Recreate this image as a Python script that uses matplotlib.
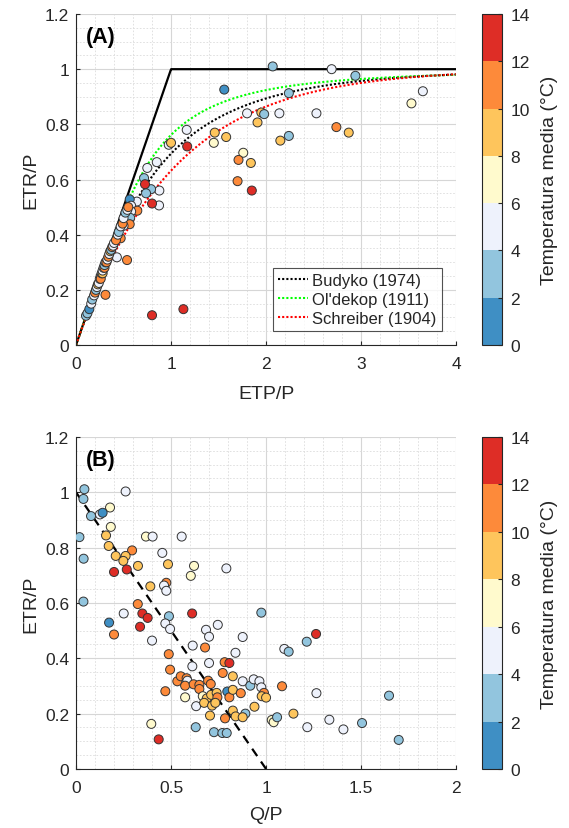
import numpy as np
import matplotlib
matplotlib.use("Agg")
import matplotlib.pyplot as plt
from matplotlib.colors import ListedColormap, BoundaryNorm
from matplotlib.ticker import MultipleLocator

plt.rcParams['font.family'] = ['Liberation Sans', 'DejaVu Sans']

# Temperature classes (°C) and their colours
temp_bounds = [0, 2, 4, 6, 8, 10, 12, 14]
temp_colors = ['#3f8fc4', '#92c5de', '#eef2fc', '#fffacd', '#fec55c', '#fd8a3a', '#de2d26']

# Panel A: ETP/P vs ETR/P
etp_a = [2.07, 2.69, 2.94, 1.56, 2.24, 3.65, 3.53, 1.80, 1.95, 1.98, 2.14, 2.53, 1.91, 2.74,
         2.87, 1.165, 1.46, 1.58, 2.24, 2.15, 1.45, 0.976, 1.00, 1.17, 1.76, 1.71, 1.84, 1.70,
         1.85, 0.75, 0.85, 0.716, 0.877, 0.79, 0.737, 0.874, 0.80, 0.64, 0.565, 0.58, 0.645,
         0.58, 0.57, 0.565, 0.50, 0.47, 0.537, 0.43, 0.31, 0.80, 1.13, 0.105, 0.726,
         0.12, 0.14, 0.16, 0.17, 0.19, 0.20, 0.21, 0.22, 0.23, 0.24, 0.25, 0.26, 0.26, 0.27,
         0.28, 0.28, 0.29, 0.30, 0.30, 0.31, 0.32, 0.33, 0.34, 0.35, 0.36, 0.37, 0.38, 0.39,
         0.40, 0.42, 0.44, 0.45, 0.47, 0.49, 0.50, 0.52, 0.54, 0.55]
etr_a = [1.01, 1.00, 0.976, 0.926, 0.913, 0.92, 0.876, 0.84, 0.843, 0.837, 0.84, 0.84, 0.807, 0.79,
         0.77, 0.78, 0.77, 0.754, 0.758, 0.741, 0.733, 0.726, 0.733, 0.72, 0.697, 0.671, 0.66, 0.594,
         0.56, 0.642, 0.663, 0.605, 0.56, 0.565, 0.55, 0.506, 0.513, 0.52, 0.528, 0.505, 0.487,
         0.484, 0.461, 0.438, 0.432, 0.387, 0.308, 0.318, 0.182, 0.108, 0.13, 0.106, 0.583,
         0.115, 0.13, 0.15, 0.165, 0.18, 0.19, 0.20, 0.21, 0.22, 0.225, 0.24, 0.25, 0.24, 0.26,
         0.26, 0.27, 0.28, 0.28, 0.29, 0.30, 0.30, 0.31, 0.32, 0.33, 0.34, 0.345, 0.355, 0.36,
         0.37, 0.38, 0.40, 0.41, 0.43, 0.44, 0.46, 0.48, 0.49, 0.50]
temp_a = [3, 5, 3, 1, 3, 5, 7, 5, 9, 3, 5, 5, 9, 11,
          9, 5, 9, 9, 3, 9, 7, 5, 9, 13, 7, 11, 9, 11,
          13, 5, 5, 3, 5, 3, 3, 5, 13, 5, 1, 5, 11,
          5, 3, 11, 5, 11, 11, 5, 11, 13, 13, 3, 13,
          3, 1, 5, 3, 5, 11, 3, 5, 9, 5, 5, 3, 11, 5,
          9, 5, 5, 11, 3, 5, 11, 5, 11, 5, 9, 3, 11, 5,
          5, 11, 5, 3, 5, 11, 5, 3, 5, 11]

# Panel B: Q/P vs ETR/P
q_b = [0.044, 0.261, 0.039, 0.179, 0.079, 0.126, 0.14, 0.183, 0.018, 0.158, 0.368, 0.403, 0.556,
       0.172, 0.295, 0.209, 0.261, 0.454, 0.04, 0.249, 0.326, 0.484, 0.621, 0.791, 0.2, 0.267,
       0.604, 0.391, 0.475, 0.463, 0.475, 0.325, 0.039, 0.251, 0.349, 0.377, 0.337, 0.174, 0.2,
       0.4, 0.489, 0.47, 0.495, 0.611, 0.746, 0.684, 0.7, 0.614, 0.679, 0.877, 0.975, 0.839,
       1.096, 1.119, 1.214, 1.263, 0.488, 0.495, 0.612, 0.7, 0.782, 0.807, 0.772, 0.825, 0.533,
       0.551, 0.582, 0.586, 0.574, 0.619, 0.649, 0.649, 0.695, 0.709, 0.47, 0.574, 0.632, 0.667,
       0.688, 0.674, 0.711, 0.74, 0.744, 0.716, 0.733, 0.705, 0.726, 0.77, 0.793, 0.63, 0.396,
       0.435, 0.784, 0.796, 0.807, 0.825, 0.825, 0.891, 0.84, 0.877, 0.867, 0.877, 0.917, 0.935,
       0.965, 0.975, 0.989, 0.977, 1.0, 0.939, 1.084, 1.265, 1.03, 1.04, 1.058, 1.144, 1.217,
       1.333, 1.407, 1.505, 1.647, 1.698]
etr_b = [1.011, 1.003, 0.976, 0.945, 0.914, 0.92, 0.926, 0.875, 0.838, 0.844, 0.84, 0.84, 0.84,
         0.806, 0.79, 0.77, 0.77, 0.781, 0.76, 0.752, 0.734, 0.74, 0.734, 0.725, 0.712, 0.721,
         0.698, 0.66, 0.673, 0.663, 0.644, 0.596, 0.605, 0.562, 0.562, 0.546, 0.514, 0.529, 0.486,
         0.464, 0.552, 0.526, 0.506, 0.562, 0.521, 0.503, 0.478, 0.446, 0.439, 0.477, 0.565, 0.42,
         0.434, 0.424, 0.46, 0.488, 0.415, 0.359, 0.371, 0.383, 0.386, 0.383, 0.347, 0.335, 0.317,
         0.335, 0.328, 0.319, 0.301, 0.306, 0.304, 0.289, 0.319, 0.307, 0.281, 0.259, 0.227, 0.263,
         0.255, 0.239, 0.268, 0.275, 0.259, 0.229, 0.239, 0.193, 0.133, 0.13, 0.13, 0.151, 0.163,
         0.107, 0.183, 0.28, 0.259, 0.286, 0.211, 0.2, 0.19, 0.187, 0.274, 0.317, 0.301, 0.324,
         0.317, 0.295, 0.275, 0.263, 0.258, 0.225, 0.299, 0.274, 0.177, 0.169, 0.187, 0.2, 0.151,
         0.178, 0.143, 0.166, 0.265, 0.105]
temp_b = [3, 5, 3, 7, 3, 5, 1, 7, 3, 9, 7, 5, 5,
          9, 11, 9, 9, 5, 3, 9, 9, 9, 7, 5, 13, 13,
          7, 9, 11, 5, 5, 11, 3, 5, 13, 13, 13, 1, 11,
          5, 3, 5, 5, 13, 5, 5, 5, 5, 11, 5, 3, 5,
          5, 3, 3, 13, 11, 11, 5, 5, 11, 13, 11, 9, 11,
          11, 11, 5, 11, 11, 11, 11, 11, 11, 11, 7, 5, 7,
          9, 9, 9, 9, 11, 9, 9, 9, 3, 3, 3, 3, 7,
          13, 11, 1, 11, 9, 9, 3, 9, 9, 11, 5, 3, 5,
          5, 5, 11, 9, 9, 9, 11, 5, 7, 7, 3, 9, 5,
          5, 5, 3, 3, 3]

cmap = ListedColormap(temp_colors)
norm = BoundaryNorm(temp_bounds, cmap.N)

TEXT = '#262626'

fig = plt.figure(figsize=(5.69, 8.29), dpi=100)
ax_a = fig.add_axes([0.1336, 0.5826, 0.668, 0.3993])
ax_b = fig.add_axes([0.1336, 0.0712, 0.668, 0.4005])
cax_a = fig.add_axes([0.847, 0.5826, 0.0351, 0.3993])
cax_b = fig.add_axes([0.847, 0.0712, 0.0351, 0.4005])


def style_axes(ax, xmax, xmaj, xmin):
    ax.set_xlim(0, xmax)
    ax.set_ylim(0, 1.2)
    ax.xaxis.set_major_locator(MultipleLocator(xmaj))
    ax.xaxis.set_minor_locator(MultipleLocator(xmin))
    ax.yaxis.set_major_locator(MultipleLocator(0.2))
    ax.yaxis.set_minor_locator(MultipleLocator(0.05))
    ax.grid(which='major', color='#d6d6d6', linewidth=0.8, linestyle='-')
    ax.grid(which='minor', color='#dcdcdc', linewidth=0.6, linestyle=(0, (2, 2)))
    ax.set_axisbelow(True)
    for side in ('top', 'right'):
        ax.spines[side].set_visible(False)
    for side in ('left', 'bottom'):
        ax.spines[side].set_color(TEXT)
        ax.spines[side].set_linewidth(0.8)
    ax.tick_params(which='major', direction='in', length=3, labelsize=12.5,
                   colors=TEXT, width=0.8)
    ax.tick_params(axis='x', which='major', pad=8)
    ax.tick_params(axis='y', which='major', pad=5)
    ax.tick_params(which='minor', length=0)
    ax.yaxis.set_major_formatter(plt.FuncFormatter(lambda v, p: f"{v:g}"))
    ax.xaxis.set_major_formatter(plt.FuncFormatter(lambda v, p: f"{v:g}"))


def add_colorbar(cax, sc):
    cb = fig.colorbar(sc, cax=cax, ticks=temp_bounds)
    cb.outline.set_edgecolor(TEXT)
    cb.outline.set_linewidth(0.8)
    cb.ax.tick_params(direction='in', length=3, labelsize=12.5, colors=TEXT, pad=6)
    cb.set_label('Temperatura media (°C)', fontsize=14, color=TEXT, labelpad=8)
    return cb


# ---- Panel A ----
style_axes(ax_a, 4, 1, 0.2)
phi = np.linspace(1e-4, 4, 800)
ax_a.plot(phi, np.minimum(phi, 1), color='black', linewidth=1.6, zorder=2)
budyko = np.sqrt(phi * np.tanh(1 / phi) * (1 - np.exp(-phi)))
oldekop = phi * np.tanh(1 / phi)
schreiber = 1 - np.exp(-phi)
ax_a.plot(phi, budyko, color='black', linestyle=(0, (1, 1)), linewidth=1.5,
          label='Budyko (1974)', zorder=2)
ax_a.plot(phi, oldekop, color='#00ff00', linestyle=(0, (1, 1)), linewidth=1.5,
          label="Ol'dekop (1911)", zorder=2)
ax_a.plot(phi, schreiber, color='#ff0000', linestyle=(0, (1, 1)), linewidth=1.5,
          label='Schreiber (1904)', zorder=2)
sc_a = ax_a.scatter(etp_a, etr_a, c=temp_a, cmap=cmap, norm=norm, s=42,
                    edgecolors='#333333', linewidths=0.7, zorder=3)
leg = ax_a.legend(loc='lower right', bbox_to_anchor=(0.962, 0.042), borderaxespad=0,
                  fontsize=12, frameon=True, fancybox=False, edgecolor=TEXT,
                  handlelength=1.8, handletextpad=0.25, borderpad=0.3, labelspacing=0.25)
leg.get_frame().set_linewidth(0.8)
leg.set_zorder(5)
for t in leg.get_texts():
    t.set_color(TEXT)
ax_a.set_xlabel('ETP/P', fontsize=14, color=TEXT, labelpad=10)
ax_a.set_ylabel('ETR/P', fontsize=14, color=TEXT, labelpad=4)
ax_a.text(0.025, 0.965, '(A)', transform=ax_a.transAxes, fontsize=15.5,
          fontweight='bold', va='top', ha='left')
add_colorbar(cax_a, sc_a)

# ---- Panel B ----
style_axes(ax_b, 2, 0.5, 0.1)
qline = np.array([0.0, 1.0])
ax_b.plot(qline, 1 - qline, color='black', linestyle=(0, (4, 3)), linewidth=1.6, zorder=2)
sc_b = ax_b.scatter(q_b, etr_b, c=temp_b, cmap=cmap, norm=norm, s=42,
                    edgecolors='#333333', linewidths=0.7, zorder=3)
ax_b.set_xlabel('Q/P', fontsize=14, color=TEXT, labelpad=8)
ax_b.set_ylabel('ETR/P', fontsize=14, color=TEXT, labelpad=4)
ax_b.text(0.025, 0.965, '(B)', transform=ax_b.transAxes, fontsize=15.5,
          fontweight='bold', va='top', ha='left')
add_colorbar(cax_b, sc_b)

fig.savefig('out.png', dpi=100)
